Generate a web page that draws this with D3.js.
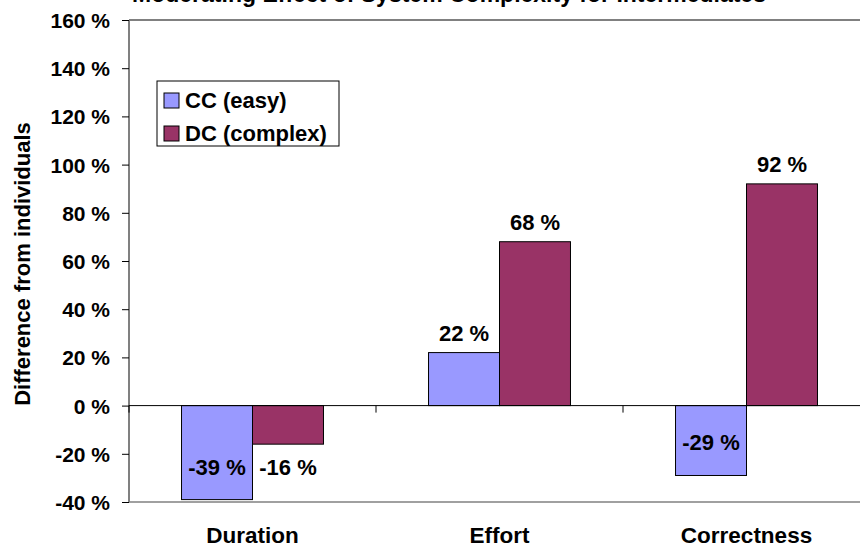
<!DOCTYPE html>
<html>
<head>
<meta charset="utf-8">
<script src="https://cdn.jsdelivr.net/npm/d3@7"></script>
<style>
  body { margin: 0; background: #fff; }
  text { font-family: "Liberation Sans", Arial, sans-serif; font-weight: bold; fill: #000; }
</style>
</head>
<body>
<div id="chart"></div>
<script>
// Chart data
var categories = ["Duration", "Effort", "Correctness"];
var seriesNames = ["CC (easy)", "DC (complex)"];
var ccValues = [-39, 22, -29];
var dcValues = [-16, 68, 92];
var yTicks = [-40, -20, 0, 20, 40, 60, 80, 100, 120, 140, 160];

var svgWidth = 860;
var svgHeight = 552;

var colors = { "CC (easy)": "#9999ff", "DC (complex)": "#993366" };

var svg = d3.select("#chart")
  .append("svg")
  .attr("width", svgWidth)
  .attr("height", svgHeight);

// scales
var x0 = d3.scaleBand()
  .domain(categories)
  .range([129, 870])
  .padding(0);

var x1 = d3.scaleBand()
  .domain(seriesNames)
  .range([0, x0.bandwidth()])
  .paddingInner(0)
  .paddingOuter(0.74);

var y = d3.scaleLinear()
  .domain([-40, 160])
  .range([502, 20]);

// plot area border (grey)
svg.append("line")
  .attr("x1", 129).attr("x2", 870)
  .attr("y1", y(160)).attr("y2", y(160))
  .attr("stroke", "#808080").attr("stroke-width", 2);
svg.append("line")
  .attr("x1", 129).attr("x2", 870)
  .attr("y1", y(-40)).attr("y2", y(-40))
  .attr("stroke", "#a0a0a0").attr("stroke-width", 2);
svg.append("line")
  .attr("x1", 129).attr("x2", 129)
  .attr("y1", y(160)).attr("y2", y(-40))
  .attr("stroke", "#808080").attr("stroke-width", 2);

// build table for bars
var table = [];
categories.forEach(function(c, i) {
  table.push({ cat: c, series: seriesNames[0], value: ccValues[i] });
  table.push({ cat: c, series: seriesNames[1], value: dcValues[i] });
});

// bars
svg.append("g").selectAll("rect")
  .data(table)
  .enter()
  .append("rect")
  .attr("x", d => x0(d.cat) + x1(d.series))
  .attr("y", d => y(Math.max(0, d.value)))
  .attr("width", x1.bandwidth())
  .attr("height", d => Math.abs(y(d.value) - y(0)))
  .attr("fill", d => colors[d.series])
  .attr("stroke", "#000")
  .attr("stroke-width", 1);

// y axis
var leftAxis = d3.axisLeft(y)
  .tickValues(yTicks)
  .tickSize(7)
  .tickPadding(12)
  .tickFormat(d => d + " %");

var yAxis = svg.append("g")
  .attr("transform", "translate(129,0)")
  .call(leftAxis);
yAxis.select(".domain").remove();
yAxis.selectAll("line").attr("stroke", "#000");
yAxis.selectAll("text")
  .attr("font-size", "21px")
  .attr("dy", "0.36em")
  .attr("font-family", "Liberation Sans, Arial, sans-serif")
  .attr("font-weight", "bold");

// x axis at zero
svg.append("line")
  .attr("x1", 129).attr("x2", 870)
  .attr("y1", y(0)).attr("y2", y(0))
  .attr("stroke", "#000").attr("stroke-width", 1);

svg.append("g").selectAll("line")
  .data(categories)
  .enter()
  .append("line")
  .attr("x1", d => x0(d)).attr("x2", d => x0(d))
  .attr("y1", y(0)).attr("y2", y(0) + 7)
  .attr("stroke", "#000");

// category labels
svg.append("g").selectAll("text")
  .data(categories)
  .enter()
  .append("text")
  .attr("x", d => x0(d) + x0.bandwidth() / 2)
  .attr("y", 543)
  .attr("text-anchor", "middle")
  .attr("font-size", "22.5px")
  .text(d => d);

// value labels
svg.append("g").selectAll("text")
  .data(table)
  .enter()
  .append("text")
  .attr("x", d => x0(d.cat) + x1(d.series) + x1.bandwidth() / 2)
  .attr("y", function(d) {
    if (d.value >= 0) return y(d.value) - 12;
    // short negative bars get the label under the bar
    if (y(d.value) - y(0) < 50) return y(d.value) + 31;
    return y(d.value) - 25;
  })
  .attr("text-anchor", "middle")
  .attr("font-size", "22px")
  .text(d => d.value + " %");

// title (partly cut off at top, as in the original)
svg.append("text")
  .attr("x", 449)
  .attr("y", 2)
  .attr("text-anchor", "middle")
  .attr("font-size", "23px")
  .text("Moderating Effect of System Complexity for Intermediates");

// y axis title
svg.append("text")
  .attr("transform", "translate(30,264) rotate(-90)")
  .attr("text-anchor", "middle")
  .attr("font-size", "22px")
  .text("Difference from individuals");

// legend
var legend = svg.append("g");
legend.append("rect")
  .attr("x", 157).attr("y", 81)
  .attr("width", 182).attr("height", 65)
  .attr("fill", "#fff")
  .attr("stroke", "#000");

var legendItems = legend.selectAll("g.item")
  .data(seriesNames)
  .enter()
  .append("g")
  .attr("class", "item")
  .attr("transform", (d, i) => `translate(164, ${93 + i * 33})`);

legendItems.append("rect")
  .attr("width", 15).attr("height", 15)
  .attr("fill", d => colors[d])
  .attr("stroke", "#000");

legendItems.append("text")
  .attr("x", 21)
  .attr("y", 15)
  .attr("font-size", "22px")
  .text(d => d);
</script>
</body>
</html>
